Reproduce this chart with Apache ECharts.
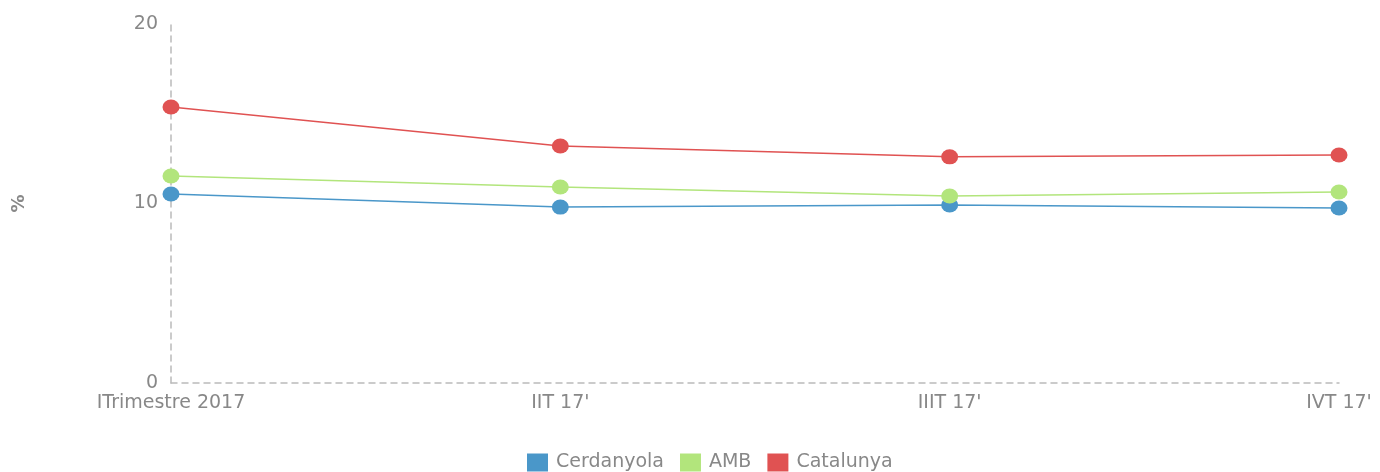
<!DOCTYPE html>
<html>
<head>
<meta charset="utf-8">
<script src="https://cdn.jsdelivr.net/npm/echarts@6/dist/echarts.min.js"></script>
<style>
  html, body { margin: 0; padding: 0; background: #fff; }
  #chart { width: 1380px; height: 472px; }
</style>
</head>
<body>
<div id="chart"></div>
<script>
// data
const categories = ['ITrimestre 2017', "IIT 17'", "IIIT 17'", "IVT 17'"];
const cerdanyola = [10.53, 9.8, 9.92, 9.75];
const amb = [11.53, 10.92, 10.42, 10.64];
const catalunya = [15.38, 13.2, 12.6, 12.7];
const yTicks = { min: 0, max: 20, interval: 10 };

const chart = echarts.init(document.getElementById('chart'), null, { renderer: 'canvas' });

const gray = '#888';
const font = 'DejaVu Sans';

function lineSeries(name, data, color) {
  return {
    name: name,
    type: 'line',
    data: data,
    symbol: 'circle',
    symbolSize: [17, 15],
    lineStyle: { color: color, width: 1.5 },
    itemStyle: { color: color },
    emphasis: { disabled: true }
  };
}

chart.setOption({
  animation: false,
  grid: { left: 171, right: 41, top: 24, bottom: 89 },
  legend: {
    left: 522,
    top: 448,
    itemWidth: 21,
    itemHeight: 18,
    itemGap: 16,
    icon: 'rect',
    textStyle: { color: gray, fontSize: 19, fontFamily: font, padding: [0, 0, 0, 3] },
    data: ['Cerdanyola', 'AMB', 'Catalunya']
  },
  xAxis: {
    type: 'category',
    data: categories,
    boundaryGap: false,
    axisLine: { lineStyle: { color: '#bbb', type: [6, 5], width: 1.5 } },
    axisTick: { show: false },
    axisLabel: { color: gray, fontSize: 19, fontFamily: font, margin: 11 }
  },
  yAxis: {
    type: 'value',
    min: yTicks.min,
    max: yTicks.max,
    interval: yTicks.interval,
    name: '%',
    nameLocation: 'middle',
    nameGap: 143,
    nameRotate: 90,
    nameTextStyle: { color: gray, fontSize: 18, fontWeight: 'bold', fontFamily: font },
    axisLine: { show: true, lineStyle: { color: '#bbb', type: [6, 5], width: 1.5 } },
    axisTick: { show: false },
    splitLine: { show: false },
    axisLabel: { color: gray, fontSize: 19, fontFamily: font, margin: 13 }
  },
  series: [
    lineSeries('Cerdanyola', cerdanyola, '#4a97c9'),
    lineSeries('AMB', amb, '#b2e57c'),
    lineSeries('Catalunya', catalunya, '#e05252')
  ]
});
</script>
</body>
</html>
